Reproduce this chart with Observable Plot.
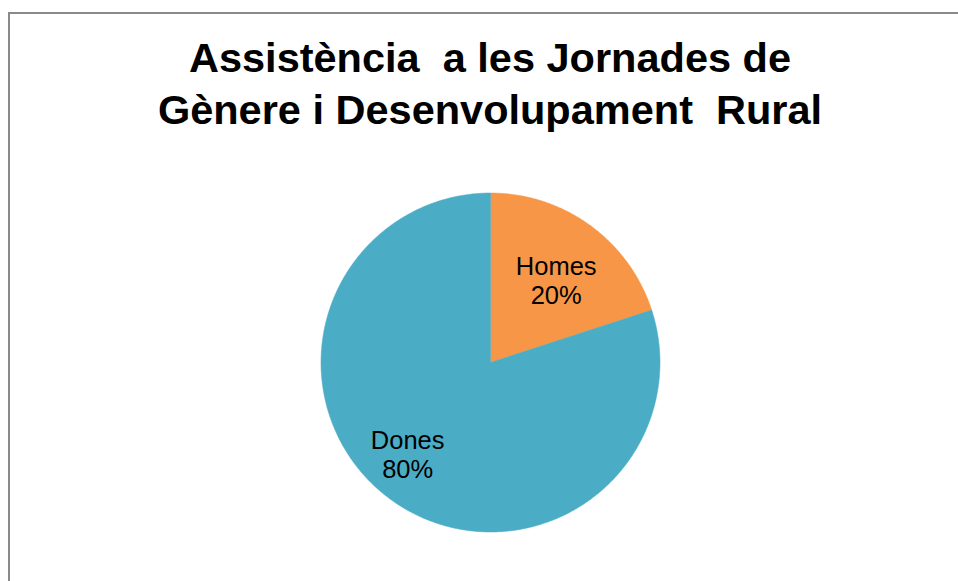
<!DOCTYPE html>
<html>
<head>
<meta charset="utf-8">
<script src="https://cdn.jsdelivr.net/npm/d3@7"></script>
<script src="https://cdn.jsdelivr.net/npm/@observablehq/plot@0.6"></script>
<style>
  html, body { margin: 0; padding: 0; background: #fff; overflow: hidden; width: 958px; height: 581px; }
  #frame { position: absolute; left: 8px; top: 12px; width: 2000px; height: 2000px;
           border-left: 2px solid #8a8a8a; border-top: 2px solid #8a8a8a; }
  #title { position: absolute; left: 0; top: 32px; width: 980px; text-align: center;
           font-family: Arial, "Liberation Sans", sans-serif; font-weight: bold; font-size: 41.5px;
           line-height: 52px; color: #000; white-space: pre; }
  #chart { position: absolute; left: 0; top: 140px; }
</style>
</head>
<body>
<div id="frame"></div>
<div id="title">Assistència  a les Jornades de
Gènere i Desenvolupament  Rural</div>
<div id="chart"></div>
<script>
const categories = ["Homes", "Dones"];
const values = [20, 80];
const colors = ["#F79646", "#4BACC6"];

// label placement inside each slice (fraction of radius, angular shift in degrees)
const labelRadius = [0.62, 0.73];
const labelShift = [2.7, 6];

const data = categories.map((name, i) => ({name, value: values[i]}));
const total = d3.sum(values);
const pie = d3.pie().value(d => d.value).sort(null);
const arcs = pie(data);

// polygon points for each slice (angles clockwise from 12 o'clock)
const pts = [];
for (const a of arcs) {
  const n = Math.max(2, Math.ceil((a.endAngle - a.startAngle) / 0.01));
  pts.push({name: a.data.name, x: 0, y: 0});
  for (let k = 0; k <= n; k++) {
    const t = a.startAngle + (a.endAngle - a.startAngle) * k / n;
    pts.push({name: a.data.name, x: Math.sin(t), y: Math.cos(t)});
  }
  pts.push({name: a.data.name, x: 0, y: 0});
}
const labels = arcs.map((a, i) => {
  const m = (a.startAngle + a.endAngle) / 2 + labelShift[i] * Math.PI / 180;
  return {name: a.data.name, x: labelRadius[i] * Math.sin(m), y: labelRadius[i] * Math.cos(m),
          text: a.data.name + "\n" + Math.round(a.data.value / total * 100) + "%"};
});

const cx = 490, cy = 222, R = 169.5;
const plot = Plot.plot({
  width: 958,
  height: 441,
  margin: 0,
  x: {domain: [-1, 1], range: [cx - R, cx + R], axis: null},
  y: {domain: [-1, 1], range: [cy + R, cy - R], axis: null},
  color: {domain: categories, range: colors},
  style: {background: "transparent", fontFamily: "Arial, 'Liberation Sans', sans-serif"},
  marks: [
    Plot.line(pts, {x: "x", y: "y", z: "name", fill: "name", stroke: "name", strokeWidth: 0.5, curve: "linear-closed"}),
    Plot.text(labels, {x: "x", y: "y", text: "text", fontSize: 25.5, fill: "#000", lineHeight: 1.14, lineAnchor: "middle"})
  ]
});
document.getElementById("chart").appendChild(plot);
</script>
</body>
</html>
